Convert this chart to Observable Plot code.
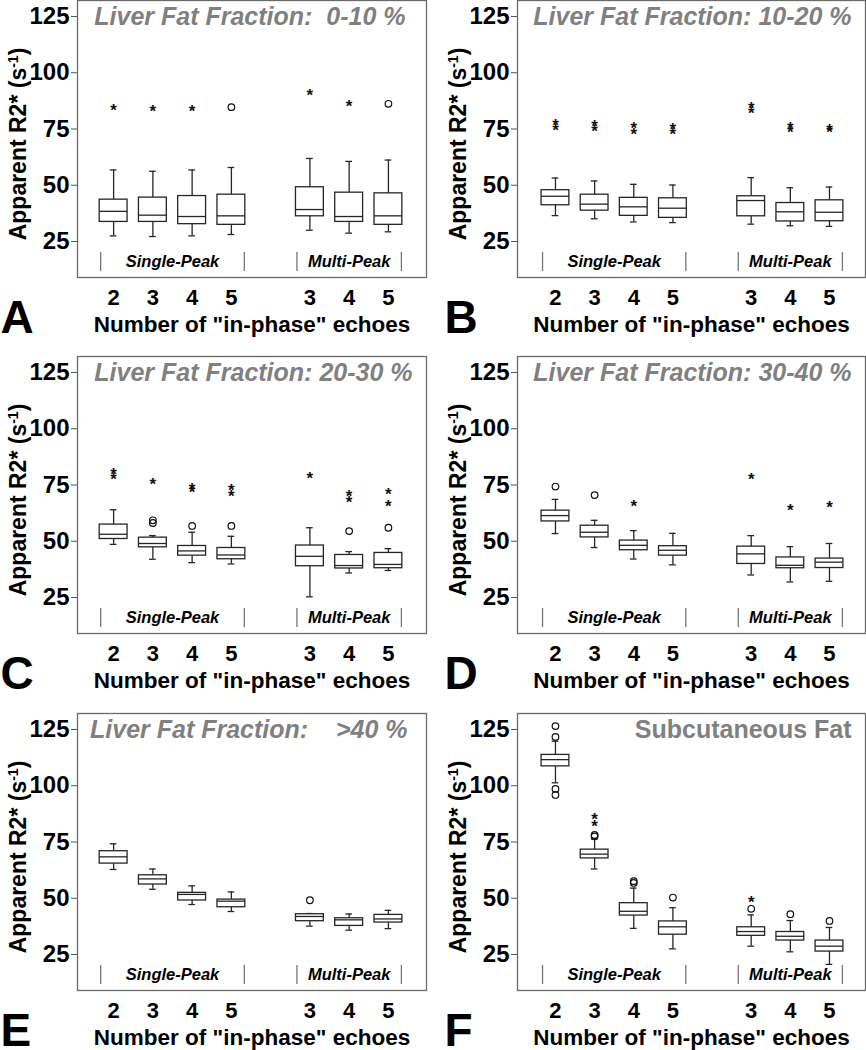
<!DOCTYPE html>
<html><head><meta charset="utf-8">
<script src="https://cdn.jsdelivr.net/npm/d3@7"></script>
<script src="https://cdn.jsdelivr.net/npm/@observablehq/plot@0.6"></script>
<style>
html,body{margin:0;padding:0;background:#fff;overflow:hidden;}
#fig{position:relative;width:866px;height:1050px;overflow:hidden;background:#fff;}
.panel{position:absolute;}
</style></head><body><div id="fig"></div>
<script>
const echoes = ["2","3","4","5","3","4","5"];
const methods = ["Single-Peak","Single-Peak","Single-Peak","Single-Peak","Multi-Peak","Multi-Peak","Multi-Peak"];
const groups = ["Single-Peak","Multi-Peak"];
const yTicks = [25,50,75,100,125];
const panelLetters = ["A","B","C","D","E","F"];
const panelTitles = ["Liver Fat Fraction:  0-10 %","Liver Fat Fraction: 10-20 %","Liver Fat Fraction: 20-30 %","Liver Fat Fraction: 30-40 %","Liver Fat Fraction:    >40 %","Subcutaneous Fat"];
const yLabel = "Apparent R2* (s-1)";
const xLabel = 'Number of "in-phase" echoes';

// Panel A
const lo_A  = [27.5, 27.2, 27.5, 28.1, 30.0, 28.7, 29.3];
const q1_A  = [33.7, 33.7, 32.7, 32.4, 36.2, 33.7, 32.4];
const med_A = [38.4, 36.7, 36.1, 36.4, 39.2, 36.1, 36.4];
const q3_A  = [43.6, 44.5, 45.2, 45.8, 49.1, 46.7, 46.4];
const hi_A  = [56.8, 56.2, 56.8, 57.9, 61.9, 60.6, 61.2];
const stars_A   = [[85.0],[84.7],[84.7],[],[91.6],[86.9],[]];
const circles_A = [[],[],[],[84.7],[],[],[86.2]];
// Panel B
const lo_B  = [36.5, 35.1, 33.7, 33.4, 32.7, 32.0, 31.7];
const q1_B  = [41.1, 38.7, 36.4, 35.5, 36.2, 33.9, 34.0];
const med_B = [45.1, 41.6, 40.4, 39.8, 43.2, 38.2, 38.0];
const q3_B  = [47.8, 45.8, 44.4, 44.2, 45.1, 42.1, 43.3];
const hi_B  = [53.2, 51.9, 50.4, 50.1, 53.4, 48.9, 49.2];
const stars_B   = [[78.5,76.1],[77.9,75.5],[76.9,74.3],[76.6,74.5],[85.9,83.8],[77.0,75.2],[76.1,75.2]];
const circles_B = [[],[],[],[],[],[],[]];
// Panel C
const lo_C  = [48.6, 42.0, 40.5, 39.9, 25.3, 35.9, 37.0];
const q1_C  = [51.0, 47.3, 43.6, 42.0, 38.9, 37.9, 38.0];
const med_C = [53.1, 49.0, 45.7, 43.9, 43.3, 39.2, 39.7];
const q3_C  = [57.4, 51.6, 47.9, 47.0, 48.1, 43.9, 44.8];
const hi_C  = [64.0, 52.5, 54.0, 52.2, 56.0, 45.4, 46.7];
const stars_C   = [[81.4,79.2],[77.0],[74.8,73.2],[74.4,71.6],[79.5],[71.8,68.9],[72.6,67.4]];
const circles_C = [[],[59.3,58.1],[56.8],[56.8],[],[54.5],[56.0]];
// Panel D
const lo_D  = [53.4, 47.2, 42.1, 39.5, 35.0, 31.9, 32.2];
const q1_D  = [58.8, 51.7, 46.0, 43.6, 39.9, 38.0, 38.1];
const med_D = [61.4, 54.0, 48.2, 46.0, 44.4, 39.3, 40.7];
const q3_D  = [63.6, 56.9, 50.3, 47.8, 47.6, 42.8, 42.3];
const hi_D  = [68.6, 59.3, 54.7, 53.5, 52.5, 47.6, 49.0];
const stars_D   = [[],[],[67.4],[],[79.1],[65.2],[66.7]];
const circles_D = [[74.3],[70.5],[],[],[],[],[]];
// Panel E
const lo_E  = [62.8, 54.0, 47.2, 44.1, 37.6, 35.8, 36.5];
const q1_E  = [65.4, 56.1, 49.0, 46.0, 39.8, 37.7, 39.2];
const med_E = [68.4, 58.6, 51.7, 48.7, 41.9, 40.4, 40.8];
const q3_E  = [70.9, 60.2, 52.4, 49.4, 42.9, 41.1, 42.6];
const hi_E  = [74.2, 63.0, 55.5, 52.8, 43.2, 43.0, 44.6];
const stars_E   = [[],[],[],[],[],[],[]];
const circles_E = [[],[],[],[],[49.1],[],[]];
// Panel F
const lo_F  = [101.3, 63.0, 36.6, 27.5, 28.7, 26.2, 20.6];
const q1_F  = [108.6, 67.7, 42.3, 33.8, 33.3, 31.2, 26.3];
const med_F = [111.6, 69.6, 44.2, 37.3, 35.2, 33.1, 28.7];
const q3_F  = [113.7, 71.6, 47.8, 39.7, 37.1, 35.0, 31.2];
const hi_F  = [119.8, 76.3, 54.5, 45.8, 42.6, 40.1, 37.0];
const stars_F   = [[],[86.9,83.6],[],[],[50.0],[],[]];
const circles_F = [[126.5,121.7,98.6,95.9],[78.1,77.5],[57.6,56.8],[50.3],[45.3],[42.9],[39.9]];

const panels = [
  {lo: lo_A, q1: q1_A, med: med_A, q3: q3_A, hi: hi_A, stars: stars_A, circles: circles_A},
  {lo: lo_B, q1: q1_B, med: med_B, q3: q3_B, hi: hi_B, stars: stars_B, circles: circles_B},
  {lo: lo_C, q1: q1_C, med: med_C, q3: q3_C, hi: hi_C, stars: stars_C, circles: circles_C},
  {lo: lo_D, q1: q1_D, med: med_D, q3: q3_D, hi: hi_D, stars: stars_D, circles: circles_D},
  {lo: lo_E, q1: q1_E, med: med_E, q3: q3_E, hi: hi_E, stars: stars_E, circles: circles_E},
  {lo: lo_F, q1: q1_F, med: med_F, q3: q3_F, hi: hi_F, stars: stars_F, circles: circles_F}
];

const FONT = '"Liberation Sans", Arial, Helvetica, sans-serif';
const slot = (i) => (methods[i] === groups[0] ? i + 1 : i + 2);
const slots = echoes.map((_, i) => slot(i));
const BW = 0.355, CAP = 0.085, LINE = "#262626";

function makePanel(k) {
  const s = panels[k];
  const col = k % 2;
  const rows = echoes.map((e, i) => ({pos: slot(i), lo: s.lo[i], q1: s.q1[i], med: s.med[i], q3: s.q3[i], hi: s.hi[i]}));
  const stars = s.stars.flatMap((vals, i) => vals.map(v => ({pos: slot(i), v})));
  const circles = s.circles.flatMap((vals, i) => vals.map(v => ({pos: slot(i), v})));
  const gInfo = groups.map(g => {
    const idx = methods.map((m, i) => m === g ? i : -1).filter(i => i >= 0);
    return {g, a: slot(idx[0]) - 0.33, b: slot(idx[idx.length - 1]) + 0.33, c: d3.mean(idx, slot)};
  });
  const gBars = gInfo.flatMap(d => [{x: d.a}, {x: d.b}]);

  const svg = Plot.plot({
    width: 433, height: 345,
    marginLeft: col === 0 ? 77 : 84, marginRight: col === 0 ? 7 : 1,
    marginTop: 2, marginBottom: 66,
    x: {domain: col === 0 ? [0.08, 8.97] : [0.03, 8.92], axis: null},
    y: {domain: [9, 132.1], axis: null},
    style: {fontFamily: FONT, fontWeight: "bold", background: "transparent", overflow: "visible", color: "#000"},
    marks: [
      Plot.axisY(yTicks, {tickSize: 6, tickPadding: 2, fontSize: 24, fontWeight: "bold", label: null, stroke: "#555", fill: "#000"}),
      Plot.axisX(slots, {tickFormat: d => echoes[slots.indexOf(d)], tickSize: 0, tickPadding: 12, fontSize: 22, fontWeight: "bold", label: null, fill: "#000"}),
      Plot.ruleX(gBars, {x: "x", insetTop: 252, insetBottom: 6, stroke: "#777", strokeWidth: 1.3}),
      Plot.text(gInfo, {x: "c", text: "g", frameAnchor: "bottom", dy: -16, lineAnchor: "middle", fontSize: 16.5, fontWeight: "bold", fontStyle: "italic", fill: "#000"}),
      Plot.ruleX(rows, {x: "pos", y1: "q3", y2: "hi", stroke: LINE, strokeWidth: 1.3}),
      Plot.ruleX(rows, {x: "pos", y1: "lo", y2: "q1", stroke: LINE, strokeWidth: 1.3}),
      Plot.ruleY(rows, {y: "hi", x1: d => d.pos - CAP, x2: d => d.pos + CAP, stroke: LINE, strokeWidth: 1.3}),
      Plot.ruleY(rows, {y: "lo", x1: d => d.pos - CAP, x2: d => d.pos + CAP, stroke: LINE, strokeWidth: 1.3}),
      Plot.rect(rows, {x1: d => d.pos - BW, x2: d => d.pos + BW, y1: "q1", y2: "q3", fill: "white", stroke: LINE, strokeWidth: 1.3}),
      Plot.ruleY(rows, {y: "med", x1: d => d.pos - BW, x2: d => d.pos + BW, stroke: LINE, strokeWidth: 1.3}),
      Plot.dot(circles, {x: "pos", y: "v", r: 3.3, stroke: "#111", strokeWidth: 1.2, fill: "none"}),
      Plot.text(stars, {x: "pos", y: "v", text: () => "*", fontSize: 17, fontWeight: "bold", dy: 4, fill: "#111"}),
      Plot.frame({stroke: "#6a6a6a", strokeWidth: 1.3}),
      Plot.text([panelTitles[k]], {text: d => d, frameAnchor: "top-right", dx: k === 0 ? -21 : (k === 4 ? -19 : -14), dy: 16, lineAnchor: "middle", textAnchor: "end", fontSize: 25, fontWeight: "bold", fontStyle: k < 5 ? "italic" : "normal", fill: "#808080"}),
      Plot.text([yLabel], {text: d => d, frameAnchor: "left", dx: -59, dy: 5, rotate: -90, textAnchor: "middle", lineAnchor: "middle", fontSize: 23, fontWeight: "bold", fill: "#000"}),
      Plot.text([xLabel], {text: d => d, frameAnchor: "bottom", dy: 47, lineAnchor: "middle", fontSize: 22.5, fontWeight: "bold", fill: "#000"}),
      Plot.text([panelLetters[k]], {text: d => d, frameAnchor: "bottom-left", dx: col === 0 ? -77 : -73, dy: 55, lineAnchor: "bottom", textAnchor: "start", fontSize: 46, fontWeight: "bold", fill: "#000"})
    ]
  });

  // superscript for the unit
  d3.select(svg).selectAll("text").filter(function () { return this.textContent === yLabel; }).each(function () {
    const t = d3.select(this);
    t.text(null);
    t.append("tspan").text("Apparent R2* (s");
    t.append("tspan").attr("font-size", "14px").attr("dy", "-8px").text("-1");
    t.append("tspan").attr("dy", "8px").text(")");
  });

  const div = document.createElement("div");
  div.className = "panel";
  div.style.left = (col * 433) + "px";
  div.style.top = ([-2, 354, 711][Math.floor(k / 2)]) + "px";
  div.appendChild(svg);
  document.getElementById("fig").appendChild(div);
}

for (let k = 0; k < 6; k++) makePanel(k);
</script>
</body></html>
